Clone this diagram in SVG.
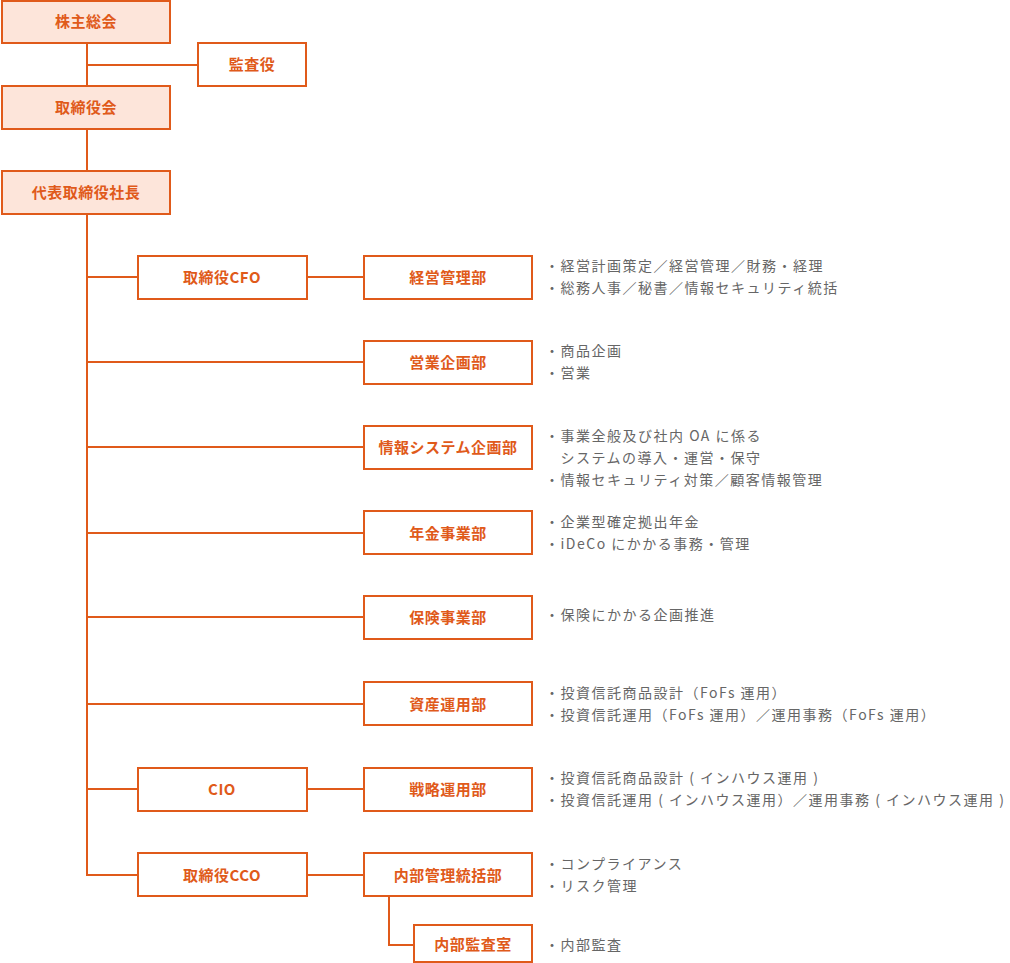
<svg xmlns="http://www.w3.org/2000/svg" width="1010" height="963" viewBox="0 0 1010 963">
<style>
.b{fill:#fff;stroke:#e05a1a;stroke-width:2}
.p{fill:#fde5da}
.t{font-family:"Noto Sans CJK JP","Noto Sans",sans-serif;font-size:15px;font-weight:bold;fill:#e05a1a;text-anchor:middle;letter-spacing:0.5px}
.d{font-family:"Noto Sans CJK JP","Noto Sans",sans-serif;font-size:14px;fill:#666;letter-spacing:1.5px}
.c{stroke:#e05a1a;stroke-width:2;fill:none}
</style>
<rect width="1010" height="963" fill="#fff"/>
<g id="connectors">
<path class="c" d="M87 43V876M87 65H198M87 277H138M307 277H364M87 362H364M87 447H364M87 533H364M87 617H364M87 704H364M87 789H138M307 789H364M86 875H138M307 875H364M389 896V945H414"/>
</g>
<g id="n1"><rect class="b p" x="2" y="1" width="168" height="42"/><text class="t" x="86" y="27">株主総会</text></g>
<g id="n2"><rect class="b" x="198" y="43" width="108" height="43"/><text class="t" x="252" y="70">監査役</text></g>
<g id="n3"><rect class="b p" x="2" y="86" width="168" height="43"/><text class="t" x="86" y="113">取締役会</text></g>
<g id="n4"><rect class="b p" x="2" y="171" width="168" height="43"/><text class="t" x="86" y="198">代表取締役社長</text></g>
<g id="n5"><rect class="b" x="138" y="256" width="169" height="43"/><text class="t" x="222" y="283">取締役CFO</text></g>
<g id="n6"><rect class="b" x="364" y="256" width="168" height="43"/><text class="t" x="448" y="283">経営管理部</text></g>
<g id="n7"><rect class="b" x="364" y="341" width="168" height="43"/><text class="t" x="448" y="368">営業企画部</text></g>
<g id="n8"><rect class="b" x="364" y="426" width="168" height="43"/><text class="t" x="448" y="453">情報システム企画部</text></g>
<g id="n9"><rect class="b" x="364" y="511" width="168" height="43"/><text class="t" x="448" y="539">年金事業部</text></g>
<g id="n10"><rect class="b" x="364" y="596" width="168" height="43"/><text class="t" x="448" y="623">保険事業部</text></g>
<g id="n11"><rect class="b" x="364" y="682" width="168" height="43"/><text class="t" x="448" y="710">資産運用部</text></g>
<g id="n12"><rect class="b" x="138" y="768" width="169" height="43"/><text class="t" x="222" y="795">CIO</text></g>
<g id="n13"><rect class="b" x="364" y="768" width="168" height="43"/><text class="t" x="448" y="795">戦略運用部</text></g>
<g id="n14"><rect class="b" x="138" y="853" width="169" height="43"/><text class="t" x="222" y="881">取締役CCO</text></g>
<g id="n15"><rect class="b" x="364" y="853" width="168" height="43"/><text class="t" x="448" y="881">内部管理統括部</text></g>
<g id="n16"><rect class="b" x="414" y="925" width="118" height="37"/><text class="t" x="473" y="950">内部監査室</text></g>
<g id="notes" class="d">
<text x="545" y="271">・経営計画策定／経営管理／財務・経理</text>
<text x="545" y="293">・総務人事／秘書／情報セキュリティ統括</text>
<text x="545" y="356">・商品企画</text>
<text x="545" y="378">・営業</text>
<text x="545" y="441">・事業全般及び社内 OA に係る</text>
<text x="545" y="463">　システムの導入・運営・保守</text>
<text x="545" y="485">・情報セキュリティ対策／顧客情報管理</text>
<text x="545" y="527">・企業型確定拠出年金</text>
<text x="545" y="549">・iDeCo にかかる事務・管理</text>
<text x="545" y="620">・保険にかかる企画推進</text>
<text x="545" y="698">・投資信託商品設計（FoFs 運用）</text>
<text x="545" y="720">・投資信託運用（FoFs 運用）／運用事務（FoFs 運用）</text>
<text x="545" y="783">・投資信託商品設計 ( インハウス運用 )</text>
<text x="545" y="805">・投資信託運用 ( インハウス運用）／運用事務 ( インハウス運用 )</text>
<text x="545" y="869">・コンプライアンス</text>
<text x="545" y="891">・リスク管理</text>
<text x="545" y="950">・内部監査</text>
</g>
</svg>
